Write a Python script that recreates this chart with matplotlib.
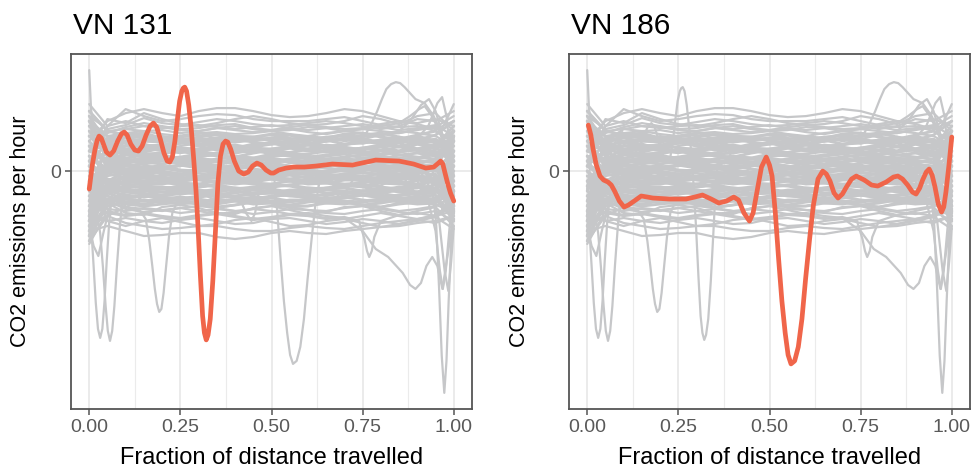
import matplotlib
matplotlib.use('Agg')

import numpy as np
import matplotlib.pyplot as plt

plt.rcParams['font.family'] = ['Liberation Sans', 'DejaVu Sans']

# ---- data (y values are centred CO2 emissions, 0 = mean) ----
titles = ["VN 131", "VN 186"]
xticks = [0.0, 0.25, 0.5, 0.75, 1.0]
xtick_labels = ["0.00", "0.25", "0.50", "0.75", "1.00"]

# common x grid of the gray vehicle curves
x_grid = [0.0, 0.05, 0.1, 0.15, 0.2, 0.25, 0.3, 0.35, 0.4, 0.45, 0.5,
          0.55, 0.6, 0.65, 0.7, 0.75, 0.8, 0.85, 0.9, 0.95, 1.0]

band_upper = [
    [0.30, 0.50, 0.58, 0.62, 0.58, 0.55, 0.60, 0.63, 0.63, 0.60, 0.56, 0.54, 0.55, 0.58, 0.62, 0.60, 0.55, 0.50, 0.48, 0.52, 0.45],
    [0.10, 0.45, 0.62, 0.55, 0.50, 0.52, 0.55, 0.57, 0.56, 0.52, 0.50, 0.50, 0.50, 0.52, 0.54, 0.50, 0.46, 0.44, 0.45, 0.40, 0.30],
    [0.55, 0.42, 0.46, 0.53, 0.48, 0.46, 0.49, 0.52, 0.50, 0.47, 0.45, 0.46, 0.48, 0.50, 0.48, 0.45, 0.42, 0.45, 0.52, 0.50, 0.60],
    [0.67, 0.45, 0.50, 0.45, 0.43, 0.45, 0.46, 0.44, 0.42, 0.44, 0.46, 0.43, 0.41, 0.43, 0.45, 0.47, 0.44, 0.41, 0.43, 0.46, 0.35],
    [-0.30, 0.30, 0.42, 0.40, 0.41, 0.38, 0.40, 0.43, 0.41, 0.39, 0.41, 0.42, 0.39, 0.37, 0.40, 0.42, 0.40, 0.38, 0.41, 0.44, 0.55],
    [0.40, 0.35, 0.38, 0.40, 0.37, 0.35, 0.38, 0.39, 0.37, 0.38, 0.40, 0.37, 0.35, 0.38, 0.40, 0.38, 0.36, 0.40, 0.38, 0.35, 0.25],
    [0.20, 0.52, 0.48, 0.58, 0.52, 0.47, 0.45, 0.48, 0.52, 0.55, 0.52, 0.48, 0.46, 0.47, 0.50, 0.55, 0.52, 0.47, 0.55, 0.58, 0.40],
    [0.45, 0.38, 0.44, 0.48, 0.45, 0.42, 0.43, 0.46, 0.47, 0.43, 0.41, 0.44, 0.46, 0.44, 0.42, 0.43, 0.47, 0.50, 0.47, 0.42, 0.50],
]

band_core_top = [
    [0.60, 0.40, 0.36, 0.38, 0.33, 0.30, 0.34, 0.37, 0.35, 0.31, 0.33, 0.36, 0.34, 0.30, 0.32, 0.36, 0.38, 0.34, 0.31, 0.36, 0.50],
    [-0.20, 0.28, 0.34, 0.36, 0.31, 0.28, 0.30, 0.33, 0.35, 0.34, 0.30, 0.28, 0.31, 0.34, 0.35, 0.31, 0.28, 0.30, 0.35, 0.30, 0.10],
    [0.35, 0.26, 0.29, 0.32, 0.33, 0.29, 0.26, 0.27, 0.31, 0.33, 0.31, 0.27, 0.26, 0.30, 0.32, 0.28, 0.31, 0.34, 0.28, 0.25, 0.45],
    [-0.50, 0.15, 0.30, 0.26, 0.24, 0.28, 0.31, 0.29, 0.25, 0.24, 0.27, 0.30, 0.29, 0.25, 0.26, 0.30, 0.27, 0.24, 0.29, 0.32, 0.20],
    [0.45, 0.30, 0.22, 0.21, 0.26, 0.29, 0.25, 0.21, 0.23, 0.27, 0.28, 0.24, 0.22, 0.26, 0.24, 0.21, 0.25, 0.28, 0.22, 0.20, -0.10],
    [0.10, 0.18, 0.25, 0.27, 0.22, 0.19, 0.21, 0.25, 0.24, 0.20, 0.19, 0.23, 0.26, 0.22, 0.19, 0.22, 0.24, 0.20, 0.27, 0.22, 0.35],
    [-0.65, 0.05, 0.16, 0.19, 0.23, 0.20, 0.16, 0.18, 0.22, 0.21, 0.17, 0.18, 0.22, 0.20, 0.23, 0.19, 0.16, 0.19, 0.22, 0.25, 0.05],
]

band_core_mid = [
    [0.25, 0.22, 0.17, 0.14, 0.17, 0.21, 0.19, 0.15, 0.14, 0.18, 0.21, 0.18, 0.14, 0.16, 0.19, 0.17, 0.20, 0.16, 0.14, 0.12, 0.40],
    [-0.30, 0.10, 0.18, 0.15, 0.12, 0.14, 0.17, 0.16, 0.12, 0.13, 0.17, 0.15, 0.12, 0.15, 0.17, 0.13, 0.12, 0.16, 0.18, 0.15, -0.25],
    [0.50, 0.20, 0.10, 0.13, 0.15, 0.11, 0.09, 0.12, 0.15, 0.13, 0.10, 0.12, 0.15, 0.11, 0.09, 0.13, 0.14, 0.10, 0.13, 0.18, 0.25],
    [-0.45, 0.00, 0.12, 0.09, 0.07, 0.10, 0.13, 0.10, 0.07, 0.09, 0.12, 0.09, 0.07, 0.11, 0.13, 0.09, 0.07, 0.10, 0.08, 0.12, -0.05],
    [0.20, 0.12, 0.05, 0.07, 0.10, 0.08, 0.05, 0.06, 0.10, 0.09, 0.05, 0.04, 0.08, 0.10, 0.06, 0.04, 0.07, 0.10, 0.07, 0.05, 0.15],
    [-0.10, 0.04, 0.07, 0.03, 0.02, 0.06, 0.07, 0.04, 0.02, 0.05, 0.08, 0.05, 0.02, 0.04, 0.07, 0.06, 0.02, 0.03, 0.07, 0.04, -0.35],
    [0.30, 0.08, 0.02, 0.04, 0.05, 0.01, 0.00, 0.04, 0.05, 0.02, 0.00, 0.02, 0.05, 0.03, 0.00, 0.01, 0.05, 0.04, 0.01, 0.05, 0.30],
    [-0.55, -0.10, -0.01, 0.02, 0.00, -0.03, 0.00, 0.02, 0.01, -0.03, -0.01, 0.02, 0.00, -0.02, 0.01, 0.03, 0.00, -0.03, 0.01, 0.00, 0.10],
]

band_core_low = [
    [0.05, 0.00, -0.04, -0.02, -0.01, -0.04, -0.05, -0.02, -0.01, -0.04, -0.05, -0.01, -0.02, -0.05, -0.03, -0.01, -0.04, -0.05, -0.02, 0.02, -0.20],
    [-0.35, -0.12, -0.05, -0.07, -0.04, -0.03, -0.06, -0.07, -0.04, -0.03, -0.06, -0.08, -0.05, -0.03, -0.05, -0.08, -0.06, -0.03, -0.05, -0.08, 0.00],
    [0.15, -0.02, -0.08, -0.10, -0.08, -0.06, -0.09, -0.11, -0.08, -0.06, -0.08, -0.10, -0.09, -0.06, -0.07, -0.10, -0.09, -0.06, -0.09, -0.03, -0.40],
    [-0.60, -0.20, -0.10, -0.12, -0.13, -0.10, -0.08, -0.11, -0.13, -0.11, -0.08, -0.10, -0.13, -0.12, -0.09, -0.09, -0.12, -0.13, -0.09, -0.12, 0.20],
    [-0.05, -0.10, -0.14, -0.13, -0.11, -0.14, -0.16, -0.13, -0.11, -0.13, -0.16, -0.14, -0.11, -0.12, -0.15, -0.15, -0.12, -0.12, -0.15, -0.09, -0.30],
    [-0.40, -0.18, -0.15, -0.17, -0.18, -0.15, -0.13, -0.16, -0.19, -0.17, -0.14, -0.15, -0.18, -0.17, -0.14, -0.16, -0.19, -0.16, -0.14, -0.18, -0.05],
    [0.10, -0.12, -0.19, -0.20, -0.17, -0.16, -0.19, -0.21, -0.18, -0.16, -0.18, -0.21, -0.20, -0.17, -0.17, -0.20, -0.21, -0.18, -0.17, -0.14, -0.45],
]

band_core_bottom = [
    [-0.70, -0.30, -0.21, -0.19, -0.21, -0.23, -0.21, -0.18, -0.20, -0.23, -0.22, -0.19, -0.19, -0.22, -0.23, -0.20, -0.18, -0.21, -0.23, -0.22, 0.15],
    [-0.25, -0.20, -0.24, -0.26, -0.24, -0.21, -0.23, -0.26, -0.25, -0.22, -0.22, -0.25, -0.26, -0.23, -0.21, -0.24, -0.26, -0.24, -0.21, -0.19, -0.35],
    [-0.50, -0.28, -0.26, -0.24, -0.27, -0.28, -0.25, -0.23, -0.26, -0.28, -0.26, -0.23, -0.25, -0.28, -0.27, -0.24, -0.24, -0.27, -0.28, -0.28, -0.10],
    [0.00, -0.22, -0.28, -0.30, -0.28, -0.26, -0.28, -0.31, -0.29, -0.26, -0.27, -0.30, -0.30, -0.27, -0.26, -0.29, -0.31, -0.28, -0.26, -0.24, -0.50],
    [-0.65, -0.35, -0.31, -0.29, -0.31, -0.33, -0.31, -0.28, -0.30, -0.33, -0.32, -0.29, -0.29, -0.32, -0.33, -0.30, -0.28, -0.31, -0.33, -0.32, -0.20],
    [-0.30, -0.28, -0.33, -0.35, -0.33, -0.31, -0.33, -0.36, -0.34, -0.31, -0.32, -0.35, -0.35, -0.32, -0.31, -0.34, -0.36, -0.33, -0.31, -0.28, -0.42],
]

band_core_extra_a = [
    [0.20, 0.33, 0.37, 0.34, 0.32, 0.35, 0.38, 0.36, 0.33, 0.34, 0.37, 0.36, 0.32, 0.33, 0.37, 0.38, 0.34, 0.32, 0.36, 0.40, 0.30],
    [0.50, 0.35, 0.28, 0.30, 0.31, 0.28, 0.27, 0.30, 0.32, 0.29, 0.27, 0.29, 0.32, 0.31, 0.27, 0.28, 0.31, 0.30, 0.27, 0.30, 0.15],
    [-0.40, 0.12, 0.22, 0.25, 0.26, 0.23, 0.22, 0.25, 0.26, 0.23, 0.22, 0.25, 0.27, 0.24, 0.21, 0.23, 0.26, 0.25, 0.22, 0.26, 0.40],
    [0.35, 0.25, 0.20, 0.17, 0.18, 0.21, 0.20, 0.17, 0.18, 0.21, 0.20, 0.17, 0.17, 0.20, 0.21, 0.18, 0.17, 0.20, 0.21, 0.16, -0.15],
    [-0.15, 0.08, 0.13, 0.16, 0.14, 0.12, 0.15, 0.16, 0.13, 0.12, 0.15, 0.16, 0.13, 0.12, 0.14, 0.16, 0.15, 0.12, 0.13, 0.17, 0.30],
    [0.40, 0.15, 0.08, 0.10, 0.11, 0.08, 0.07, 0.10, 0.11, 0.08, 0.08, 0.11, 0.10, 0.07, 0.09, 0.11, 0.09, 0.07, 0.10, 0.09, -0.20],
    [-0.25, -0.02, 0.05, 0.03, 0.04, 0.06, 0.03, 0.02, 0.05, 0.06, 0.03, 0.02, 0.05, 0.06, 0.04, 0.02, 0.04, 0.06, 0.03, 0.00, 0.20],
]

band_core_extra_b = [
    [0.15, 0.02, -0.02, 0.00, -0.02, -0.03, 0.00, -0.01, -0.03, -0.01, 0.01, -0.02, -0.03, 0.00, 0.00, -0.02, -0.03, 0.00, -0.01, -0.04, -0.30],
    [-0.45, -0.15, -0.06, -0.04, -0.06, -0.08, -0.05, -0.04, -0.07, -0.08, -0.05, -0.04, -0.07, -0.07, -0.04, -0.05, -0.08, -0.06, -0.04, -0.08, 0.10],
    [0.05, -0.08, -0.12, -0.10, -0.09, -0.12, -0.13, -0.10, -0.09, -0.12, -0.13, -0.10, -0.09, -0.11, -0.13, -0.12, -0.09, -0.10, -0.13, -0.10, -0.35],
    [-0.55, -0.22, -0.17, -0.15, -0.16, -0.18, -0.16, -0.14, -0.17, -0.18, -0.15, -0.14, -0.17, -0.18, -0.15, -0.14, -0.16, -0.18, -0.16, -0.19, 0.05],
    [-0.15, -0.18, -0.21, -0.23, -0.21, -0.19, -0.21, -0.23, -0.22, -0.19, -0.20, -0.23, -0.22, -0.19, -0.20, -0.23, -0.22, -0.19, -0.21, -0.17, -0.40],
    [-0.60, -0.32, -0.27, -0.25, -0.26, -0.28, -0.26, -0.24, -0.27, -0.28, -0.25, -0.24, -0.27, -0.28, -0.25, -0.24, -0.27, -0.28, -0.25, -0.29, -0.15],
    [-0.10, -0.25, -0.31, -0.33, -0.30, -0.29, -0.32, -0.33, -0.30, -0.29, -0.32, -0.34, -0.31, -0.29, -0.31, -0.34, -0.32, -0.29, -0.31, -0.27, -0.48],
]

band_core_extra_c = [
    [0.05, 0.30, 0.33, 0.30, 0.29, 0.32, 0.33, 0.30, 0.29, 0.31, 0.33, 0.31, 0.28, 0.30, 0.33, 0.32, 0.29, 0.31, 0.33, 0.28, 0.40],
    [0.55, 0.28, 0.20, 0.22, 0.21, 0.19, 0.22, 0.23, 0.20, 0.19, 0.22, 0.23, 0.20, 0.19, 0.21, 0.23, 0.21, 0.19, 0.22, 0.24, 0.10],
    [-0.35, 0.05, 0.11, 0.12, 0.10, 0.12, 0.13, 0.10, 0.09, 0.12, 0.13, 0.10, 0.09, 0.12, 0.12, 0.10, 0.10, 0.13, 0.11, 0.08, 0.35],
    [0.25, 0.05, 0.00, 0.02, 0.03, 0.00, 0.01, 0.03, 0.01, -0.01, 0.02, 0.03, 0.00, 0.00, 0.03, 0.02, -0.01, 0.01, 0.03, 0.02, -0.15],
    [-0.50, -0.18, -0.09, -0.07, -0.09, -0.10, -0.08, -0.07, -0.10, -0.10, -0.07, -0.08, -0.10, -0.09, -0.07, -0.09, -0.11, -0.08, -0.07, -0.11, 0.05],
    [0.00, -0.14, -0.19, -0.20, -0.18, -0.19, -0.21, -0.19, -0.17, -0.19, -0.21, -0.20, -0.17, -0.18, -0.21, -0.20, -0.18, -0.18, -0.21, -0.17, -0.30],
    [-0.45, -0.30, -0.28, -0.30, -0.29, -0.27, -0.29, -0.31, -0.28, -0.27, -0.30, -0.31, -0.28, -0.27, -0.30, -0.31, -0.29, -0.27, -0.29, -0.30, -0.38],
]

band_lower = [
    [-0.60, -0.55, -0.60, -0.65, -0.64, -0.62, -0.62, -0.66, -0.68, -0.66, -0.62, -0.60, -0.62, -0.63, -0.60, -0.58, -0.56, -0.55, -0.52, -0.50, -0.45],
    [-0.70, -0.45, -0.52, -0.55, -0.58, -0.57, -0.55, -0.55, -0.58, -0.60, -0.60, -0.57, -0.55, -0.57, -0.58, -0.55, -0.52, -0.50, -0.48, -0.45, -0.40],
    [-0.40, -0.50, -0.47, -0.50, -0.52, -0.49, -0.47, -0.50, -0.53, -0.52, -0.48, -0.47, -0.50, -0.53, -0.51, -0.48, -0.50, -0.53, -0.50, -0.46, -0.58],
    [-0.73, -0.40, -0.44, -0.42, -0.45, -0.47, -0.44, -0.42, -0.45, -0.48, -0.46, -0.43, -0.44, -0.47, -0.48, -0.45, -0.42, -0.45, -0.48, -0.44, -0.30],
    [-0.20, -0.38, -0.40, -0.37, -0.39, -0.42, -0.40, -0.38, -0.40, -0.43, -0.41, -0.38, -0.39, -0.42, -0.43, -0.40, -0.38, -0.41, -0.43, -0.40, -0.50],
    [-0.55, -0.45, -0.36, -0.38, -0.40, -0.37, -0.35, -0.37, -0.40, -0.38, -0.35, -0.36, -0.39, -0.40, -0.37, -0.35, -0.37, -0.40, -0.38, -0.35, -0.25],
    [-0.10, -0.50, -0.55, -0.50, -0.47, -0.51, -0.55, -0.53, -0.49, -0.47, -0.51, -0.55, -0.54, -0.50, -0.48, -0.52, -0.56, -0.53, -0.49, -0.52, -0.45],
    [-0.45, -0.32, -0.42, -0.44, -0.36, -0.34, -0.37, -0.42, -0.43, -0.37, -0.35, -0.39, -0.43, -0.41, -0.36, -0.35, -0.40, -0.44, -0.40, -0.36, -0.55],
]

# gray vehicles with unusual spikes / dips, each with its own x positions
spike_start_x = [0, 0.005, 0.012, 0.025, 0.05, 0.1, 0.15, 0.2, 0.25, 0.3, 0.35, 0.4, 0.45, 0.5, 0.55, 0.6, 0.65, 0.7, 0.75, 0.8, 0.85, 0.9, 0.95, 1.0]
spike_start_y = [1.01, 0.62, 0.42, 0.30, 0.24, 0.20, 0.24, 0.27, 0.23, 0.20, 0.22, 0.25, 0.24, 0.20, 0.19, 0.22, 0.25, 0.22, 0.19, 0.21, 0.24, 0.20, 0.18, 0.30]

dip_003_x = [0, 0.006, 0.012, 0.018, 0.024, 0.030, 0.036, 0.042, 0.048, 0.055, 0.065, 0.08, 0.1, 0.15, 0.2, 0.25, 0.3, 0.35, 0.4, 0.45, 0.5, 0.55, 0.6, 0.65, 0.7, 0.75, 0.8, 0.85, 0.9, 0.95, 1.0]
dip_003_y = [-0.40, -0.60, -0.95, -1.32, -1.58, -1.67, -1.58, -1.30, -0.90, -0.50, -0.15, 0.05, 0.12, 0.06, 0.02, 0.05, 0.09, 0.06, 0.03, 0.05, 0.08, 0.05, 0.02, 0.04, 0.07, 0.05, 0.02, 0.04, 0.08, 0.03, -0.15]

dip_006_x = [0, 0.02, 0.03, 0.038, 0.045, 0.051, 0.057, 0.063, 0.069, 0.076, 0.084, 0.092, 0.1, 0.15, 0.2, 0.25, 0.3, 0.35, 0.4, 0.45, 0.5, 0.55, 0.6, 0.65, 0.7, 0.75, 0.8, 0.85, 0.9, 0.95, 1.0]
dip_006_y = [-0.30, -0.40, -0.62, -0.98, -1.35, -1.60, -1.70, -1.60, -1.35, -0.95, -0.55, -0.25, -0.10, -0.02, -0.06, -0.10, -0.07, -0.03, -0.05, -0.09, -0.08, -0.04, -0.03, -0.07, -0.09, -0.05, -0.03, -0.06, -0.09, -0.06, 0.05]

low_start_x = [0, 0.012, 0.025, 0.04, 0.06, 0.1, 0.15, 0.2, 0.25, 0.3, 0.35, 0.4, 0.45, 0.5, 0.55, 0.6, 0.65, 0.7, 0.75, 0.8, 0.85, 0.9, 0.95, 1.0]
low_start_y = [-0.55, -0.75, -0.85, -0.60, -0.30, -0.20, -0.22, -0.25, -0.23, -0.20, -0.22, -0.25, -0.24, -0.21, -0.20, -0.23, -0.25, -0.22, -0.20, -0.22, -0.25, -0.23, -0.20, -0.30]

dip_019_x = [0, 0.05, 0.1, 0.14, 0.155, 0.165, 0.173, 0.180, 0.186, 0.192, 0.198, 0.204, 0.211, 0.219, 0.228, 0.24, 0.25, 0.3, 0.35, 0.4, 0.45, 0.5, 0.55, 0.6, 0.65, 0.7, 0.75, 0.8, 0.85, 0.9, 0.95, 1.0]
dip_019_y = [-0.45, -0.30, -0.36, -0.40, -0.48, -0.70, -0.95, -1.18, -1.33, -1.41, -1.38, -1.22, -0.95, -0.65, -0.42, -0.32, -0.30, -0.33, -0.37, -0.34, -0.30, -0.32, -0.36, -0.35, -0.31, -0.30, -0.34, -0.36, -0.32, -0.30, -0.34, -0.40]

peak_084_x = [0, 0.05, 0.1, 0.15, 0.2, 0.25, 0.3, 0.35, 0.4, 0.45, 0.5, 0.55, 0.6, 0.65, 0.7, 0.74, 0.76, 0.775, 0.79, 0.803, 0.815, 0.828, 0.841, 0.853, 0.865, 0.88, 0.895, 0.92, 0.945, 0.97, 1.0]
peak_084_y = [0.05, 0.22, 0.26, 0.24, 0.22, 0.25, 0.28, 0.25, 0.23, 0.26, 0.28, 0.25, 0.22, 0.24, 0.27, 0.30, 0.38, 0.48, 0.60, 0.72, 0.82, 0.87, 0.89, 0.88, 0.84, 0.78, 0.72, 0.68, 0.55, 0.35, 0.30]

dip_077_x = [0, 0.05, 0.1, 0.15, 0.2, 0.25, 0.3, 0.35, 0.4, 0.45, 0.5, 0.55, 0.6, 0.65, 0.7, 0.74, 0.755, 0.762, 0.768, 0.775, 0.782, 0.8, 0.85, 0.9, 0.95, 1.0]
dip_077_y = [-0.35, -0.42, -0.45, -0.43, -0.46, -0.48, -0.45, -0.43, -0.46, -0.49, -0.47, -0.44, -0.45, -0.48, -0.46, -0.50, -0.68, -0.80, -0.86, -0.80, -0.66, -0.50, -0.44, -0.42, -0.45, -0.35]

sag_end_x = [0, 0.05, 0.1, 0.15, 0.2, 0.25, 0.3, 0.35, 0.4, 0.45, 0.5, 0.55, 0.6, 0.65, 0.7, 0.75, 0.786, 0.82, 0.86, 0.88, 0.895, 0.91, 0.925, 0.941, 0.955, 0.969, 0.985, 1.0]
sag_end_y = [-0.25, -0.30, -0.38, -0.41, -0.39, -0.37, -0.40, -0.43, -0.41, -0.38, -0.40, -0.43, -0.42, -0.45, -0.47, -0.60, -0.78, -0.86, -1.02, -1.14, -1.18, -1.12, -0.95, -0.86, -0.95, -1.18, -0.80, -0.40]

dip_097_x = [0, 0.05, 0.1, 0.15, 0.2, 0.25, 0.3, 0.35, 0.4, 0.45, 0.5, 0.55, 0.6, 0.65, 0.7, 0.75, 0.8, 0.85, 0.9, 0.94, 0.952, 0.960, 0.967, 0.974, 0.980, 0.986, 0.993, 1.0]
dip_097_y = [0.35, 0.15, 0.08, 0.12, 0.16, 0.13, 0.10, 0.12, 0.15, 0.13, 0.10, 0.11, 0.14, 0.12, 0.09, 0.11, 0.14, 0.12, 0.08, -0.10, -0.55, -1.20, -1.85, -2.22, -1.90, -1.30, -0.70, -0.30]

dip_097b_x = [0, 0.05, 0.1, 0.15, 0.2, 0.25, 0.3, 0.35, 0.4, 0.45, 0.5, 0.55, 0.6, 0.65, 0.7, 0.75, 0.8, 0.85, 0.9, 0.93, 0.95, 0.962, 0.97, 0.978, 0.99, 1.0]
dip_097b_y = [-0.15, -0.05, -0.02, -0.05, -0.08, -0.04, -0.02, -0.05, -0.08, -0.06, -0.02, -0.04, -0.07, -0.06, -0.03, -0.05, -0.08, -0.06, -0.10, -0.30, -0.60, -1.00, -1.18, -1.00, -0.50, -0.20]

dip_098_x = [0, 0.05, 0.1, 0.15, 0.2, 0.25, 0.3, 0.35, 0.4, 0.45, 0.5, 0.55, 0.6, 0.65, 0.7, 0.75, 0.8, 0.85, 0.9, 0.94, 0.96, 0.975, 0.985, 0.993, 1.0]
dip_098_y = [0.45, 0.20, 0.10, 0.08, 0.11, 0.14, 0.12, 0.09, 0.10, 0.13, 0.12, 0.08, 0.09, 0.12, 0.13, 0.10, 0.08, 0.11, 0.05, -0.20, -0.50, -1.00, -1.20, -0.90, -0.55]

peak_093_x = [0, 0.05, 0.1, 0.15, 0.2, 0.25, 0.3, 0.35, 0.4, 0.45, 0.5, 0.55, 0.6, 0.65, 0.7, 0.75, 0.8, 0.85, 0.88, 0.91, 0.932, 0.95, 0.97, 1.0]
peak_093_y = [0.25, 0.30, 0.35, 0.33, 0.31, 0.34, 0.36, 0.33, 0.31, 0.34, 0.36, 0.33, 0.31, 0.33, 0.36, 0.34, 0.37, 0.40, 0.50, 0.66, 0.72, 0.60, 0.35, 0.10]

peak_097_x = [0, 0.05, 0.1, 0.15, 0.2, 0.25, 0.3, 0.35, 0.4, 0.45, 0.5, 0.55, 0.6, 0.65, 0.7, 0.75, 0.8, 0.85, 0.9, 0.93, 0.955, 0.968, 0.98, 0.99, 1.0]
peak_097_y = [-0.20, 0.05, 0.20, 0.23, 0.20, 0.18, 0.21, 0.24, 0.21, 0.19, 0.21, 0.24, 0.22, 0.19, 0.20, 0.23, 0.26, 0.30, 0.33, 0.45, 0.68, 0.74, 0.55, 0.20, -0.05]

peak_100_x = [0, 0.05, 0.1, 0.15, 0.2, 0.25, 0.3, 0.35, 0.4, 0.45, 0.5, 0.55, 0.6, 0.65, 0.7, 0.75, 0.8, 0.85, 0.9, 0.94, 0.965, 0.985, 1.0]
peak_100_y = [0.50, 0.35, 0.30, 0.32, 0.35, 0.33, 0.30, 0.32, 0.35, 0.34, 0.31, 0.32, 0.35, 0.33, 0.30, 0.32, 0.36, 0.38, 0.42, 0.45, 0.40, 0.55, 0.67]

peak_092_x = [0, 0.05, 0.1, 0.15, 0.2, 0.25, 0.3, 0.35, 0.4, 0.45, 0.5, 0.55, 0.6, 0.65, 0.7, 0.75, 0.8, 0.85, 0.88, 0.905, 0.92, 0.94, 0.96, 0.98, 1.0]
peak_092_y = [0.60, 0.40, 0.42, 0.45, 0.44, 0.41, 0.40, 0.43, 0.45, 0.42, 0.40, 0.41, 0.44, 0.43, 0.40, 0.42, 0.45, 0.48, 0.55, 0.62, 0.65, 0.55, 0.40, 0.20, 0.10]

# the two highlighted vehicles
vn131_x = [0.000, 0.008, 0.016, 0.022, 0.027, 0.033, 0.040, 0.047, 0.057, 0.067, 0.078, 0.088, 0.096,
           0.104, 0.114, 0.125, 0.135, 0.145, 0.156, 0.167, 0.176, 0.185, 0.195, 0.205, 0.214, 0.221,
           0.228, 0.235, 0.242, 0.248, 0.254, 0.258, 0.262, 0.267, 0.273, 0.280, 0.287, 0.293, 0.299,
           0.305, 0.311, 0.316, 0.321, 0.326, 0.332, 0.339, 0.346, 0.353, 0.360, 0.367, 0.374, 0.380,
           0.388, 0.398, 0.410, 0.424, 0.436, 0.448, 0.460, 0.472, 0.485, 0.498, 0.506, 0.520, 0.540,
           0.560, 0.590, 0.622, 0.667, 0.722, 0.786, 0.850, 0.890, 0.923, 0.945, 0.958, 0.964, 0.970,
           0.976, 0.983, 0.991, 1.000]
vn131_y = [-0.18, 0.05, 0.22, 0.31, 0.35, 0.33, 0.26, 0.19, 0.16, 0.20, 0.30, 0.37, 0.39,
           0.36, 0.27, 0.21, 0.20, 0.25, 0.36, 0.45, 0.48, 0.44, 0.32, 0.18, 0.10, 0.09,
           0.14, 0.30, 0.52, 0.70, 0.80, 0.83, 0.84, 0.80, 0.66, 0.42, 0.10, -0.20, -0.60,
           -1.05, -1.45, -1.62, -1.69, -1.64, -1.48, -1.10, -0.62, -0.12, 0.15, 0.27, 0.30, 0.29,
           0.22, 0.10, 0.00, -0.03, -0.01, 0.05, 0.08, 0.06, 0.01, -0.02, -0.02, 0.01, 0.03,
           0.04, 0.04, 0.05, 0.07, 0.06, 0.11, 0.10, 0.07, 0.03, 0.04, 0.08, 0.10, 0.07,
           -0.02, -0.12, -0.22, -0.30]

vn186_x = [0.003, 0.010, 0.016, 0.025, 0.035, 0.045, 0.057, 0.066, 0.075, 0.088, 0.101, 0.113, 0.125,
           0.148, 0.165, 0.180, 0.225, 0.271, 0.295, 0.316, 0.340, 0.361, 0.382, 0.402, 0.415, 0.430,
           0.445, 0.455, 0.465, 0.478, 0.491, 0.500, 0.507, 0.516, 0.525, 0.534, 0.543, 0.551, 0.559,
           0.569, 0.579, 0.589, 0.599, 0.610, 0.620, 0.633, 0.646, 0.656, 0.666, 0.677, 0.688, 0.700,
           0.711, 0.725, 0.738, 0.760, 0.780, 0.797, 0.820, 0.840, 0.852, 0.865, 0.879, 0.892, 0.902,
           0.912, 0.920, 0.930, 0.938, 0.946, 0.954, 0.963, 0.972, 0.978, 0.984, 0.992, 1.000]
vn186_y = [0.46, 0.36, 0.22, 0.06, -0.05, -0.09, -0.11, -0.14, -0.20, -0.30, -0.36, -0.34, -0.31,
           -0.25, -0.26, -0.27, -0.28, -0.28, -0.26, -0.24, -0.28, -0.32, -0.30, -0.26, -0.29, -0.42,
           -0.50, -0.42, -0.22, 0.04, 0.14, 0.06, -0.05, -0.42, -0.88, -1.30, -1.62, -1.84, -1.93,
           -1.90, -1.76, -1.48, -1.08, -0.68, -0.35, -0.08, 0.00, -0.03, -0.10, -0.22, -0.27, -0.23,
           -0.16, -0.08, -0.05, -0.09, -0.14, -0.15, -0.11, -0.06, -0.05, -0.08, -0.14, -0.21, -0.23,
           -0.17, -0.09, -0.01, 0.02, -0.04, -0.16, -0.33, -0.41, -0.36, -0.21, 0.05, 0.34]

# ---- assemble ----
core_groups = [band_core_top, band_core_extra_a, band_core_mid, band_core_extra_c,
               band_core_low, band_core_extra_b, band_core_bottom]
edge_groups = [band_upper, band_lower]

core_curves = [(x_grid, ys) for g in core_groups for ys in g]
edge_curves = [(x_grid, ys) for g in edge_groups for ys in g]
edge_curves += [
    (spike_start_x, spike_start_y), (dip_003_x, dip_003_y), (dip_006_x, dip_006_y),
    (low_start_x, low_start_y), (dip_019_x, dip_019_y), (peak_084_x, peak_084_y),
    (dip_077_x, dip_077_y), (sag_end_x, sag_end_y), (dip_097_x, dip_097_y),
    (dip_097b_x, dip_097b_y), (dip_098_x, dip_098_y), (peak_093_x, peak_093_y),
    (peak_097_x, peak_097_y), (peak_100_x, peak_100_y), (peak_092_x, peak_092_y),
    (vn131_x, vn131_y), (vn186_x, vn186_y),
]
highlights = [(vn131_x, vn131_y), (vn186_x, vn186_y)]

all_y = np.concatenate([np.asarray(c[1]) for c in core_curves + edge_curves])
ymin, ymax = all_y.min(), all_y.max()
ypad = 0.05 * (ymax - ymin)

GRAY = '#C6C7C9'
RED = '#F0654A'
DARK = '#555555'

fig = plt.figure(figsize=(9.72, 4.70), dpi=100)
lefts = [71 / 972, 569 / 972]

for i, left in enumerate(lefts):
    ax = fig.add_axes([left, 61 / 470, 401 / 972, 355 / 470])
    for xs, ys in edge_curves:
        ax.plot(xs, ys, color=GRAY, lw=1.6, solid_capstyle='round', solid_joinstyle='round', zorder=2)
    for xs, ys in core_curves:
        ax.plot(xs, ys, color=GRAY, lw=2.1, solid_capstyle='round', solid_joinstyle='round', zorder=2)
    hx, hy = highlights[i]
    ax.plot(hx, hy, color=RED, lw=3.4, solid_capstyle='round', solid_joinstyle='round', zorder=3)

    ax.set_xlim(-0.05, 1.05)
    ax.set_ylim(ymin - ypad, ymax + ypad)
    ax.set_xticks(xticks)
    ax.set_xticklabels(xtick_labels)
    ax.set_xticks([0.125, 0.375, 0.625, 0.875], minor=True)
    ax.set_yticks([0])
    ax.set_yticklabels(["0"])
    ax.grid(which='major', color='#EBEBEB', lw=1.4)
    ax.grid(which='minor', axis='x', color='#EBEBEB', lw=0.8)
    ax.set_axisbelow(True)
    ax.tick_params(which='major', direction='out', length=4.3, width=1.1, color=DARK,
                   labelsize=14, labelcolor='#595959', pad=3)
    ax.tick_params(which='minor', length=0)
    for sp in ax.spines.values():
        sp.set_color(DARK)
        sp.set_linewidth(1.3)

    ax.set_xlabel("Fraction of distance travelled", fontsize=17, color='black')
    ax.xaxis.set_label_coords(0.5, -0.108)
    fig.text(left - 50 / 972, (61 + 355 / 2) / 470, "CO2 emissions per hour",
             rotation=90, ha='center', va='center', fontsize=15.5, color='black')
    fig.text(left + 2 / 972, 1 - 34 / 470, titles[i], fontsize=21.5, va='baseline', color='black')

plt.savefig("out.png", dpi=100)
print("Saved plot as out.png")
